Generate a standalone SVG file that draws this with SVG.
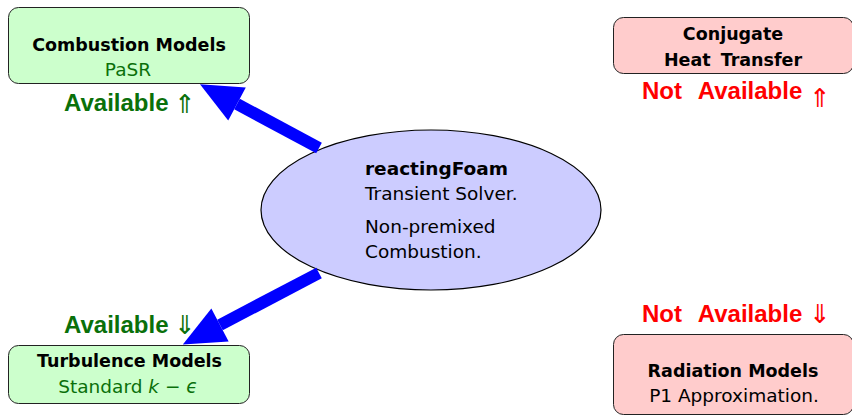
<svg xmlns="http://www.w3.org/2000/svg" width="852" height="415" viewBox="0 0 852 415">
  <style>
    .box { stroke: #222; stroke-width: 1; }
    .ok { fill: #ccffcc; }
    .no { fill: #ffcccc; }
    .title { font-family: "DejaVu Sans", sans-serif; font-weight: bold; font-size: 17.5px; fill: #000; text-anchor: middle; }
    .sub { font-family: "DejaVu Sans", sans-serif; font-size: 18.5px; text-anchor: middle; }
    .body { font-family: "DejaVu Sans", sans-serif; font-size: 18.5px; fill: #000; }
    .green { fill: #0a700a; }
    .red { fill: #ff0000; }
    .big { font-family: "Liberation Sans", sans-serif; font-weight: bold; font-size: 24px; word-spacing: 10px; }
    .dir { font-family: "DejaVu Sans", sans-serif; font-size: 26px; }
    .link { stroke: #0000ff; stroke-width: 12; fill: none; marker-end: url(#head); }
  </style>
  <defs>
    <marker id="head" markerUnits="strokeWidth" markerWidth="3.6" markerHeight="3.2" refX="0" refY="1.55" orient="auto" overflow="visible">
      <path d="M0,0 L3.5,1.55 L0,3.1 Z" fill="#0000ff"/>
    </marker>
  </defs>

  <g id="solver">
    <ellipse cx="431" cy="210" rx="170" ry="80" fill="#ccccff" stroke="#000" stroke-width="1.2"/>
    <text class="body" x="365" y="175" font-weight="bold">reactingFoam</text>
    <text class="body" x="365" y="200">Transient Solver.</text>
    <text class="body" x="365" y="233">Non-premixed</text>
    <text class="body" x="365" y="258">Combustion.</text>
  </g>

  <g id="combustion">
    <rect class="box ok" x="8.5" y="7.5" width="241" height="76" rx="10"/>
    <text class="title" x="129" y="51">Combustion Models</text>
    <text class="sub green" x="128" y="76">PaSR</text>
    <text class="big green" x="64" y="111">Available</text>
    <text class="dir green" x="174" y="113">⇑</text>
  </g>

  <g id="conjugate">
    <rect class="box no" x="613.5" y="17.5" width="240" height="56" rx="10"/>
    <text class="title" x="733" y="40">Conjugate</text>
    <text class="title" x="733" y="66" word-spacing="4">Heat Transfer</text>
    <text class="big red" x="642" y="99">Not Available</text>
    <text class="dir red" x="809" y="107">⇑</text>
  </g>

  <g id="turbulence">
    <rect class="box ok" x="8.5" y="345.5" width="241" height="58" rx="10"/>
    <text class="title" x="129.5" y="367">Turbulence Models</text>
    <text class="sub green" x="128" y="393">Standard <tspan font-style="italic">k</tspan> − <tspan font-style="italic">ϵ</tspan></text>
    <text class="big green" x="64" y="333">Available</text>
    <text class="dir green" x="174" y="334">⇓</text>
  </g>

  <g id="radiation">
    <rect class="box no" x="613.5" y="334.5" width="240" height="80" rx="10"/>
    <text class="title" x="733" y="377">Radiation Models</text>
    <text class="sub" x="734" y="402" fill="#000">P1 Approximation.</text>
    <text class="big red" x="642" y="322">Not Available</text>
    <text class="dir red" x="809" y="323">⇓</text>
  </g>

  <g id="connectors">
    <line class="link" x1="319" y1="148" x2="237" y2="104"/>
    <line class="link" x1="319" y1="273" x2="220" y2="325"/>
  </g>
</svg>
